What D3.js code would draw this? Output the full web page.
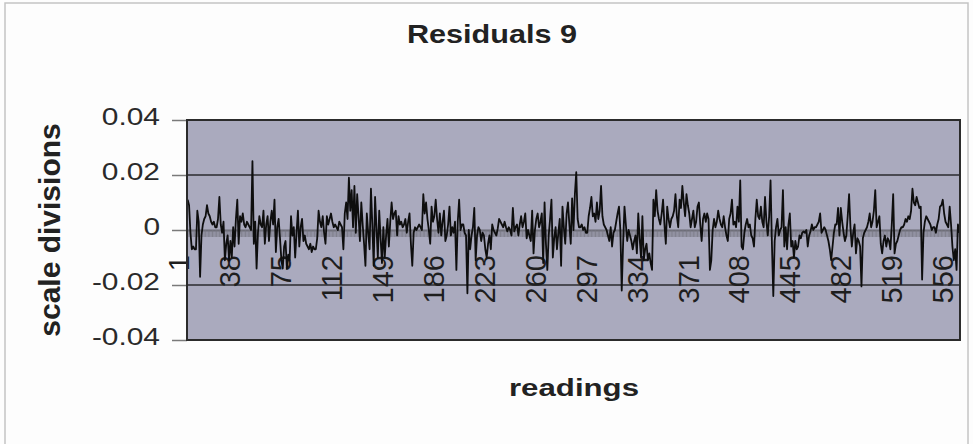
<!DOCTYPE html>
<html>
<head>
<meta charset="utf-8">
<script src="https://cdn.jsdelivr.net/npm/d3@7"></script>
<style>
  html, body { margin: 0; padding: 0; background: #fdfdfd; }
  svg { display: block; }
  text { font-family: "Liberation Sans", Arial, sans-serif; fill: #222; }
</style>
</head>
<body>
<div id="chart"></div>
<script>
const chartTitle = 'Residuals 9';
const xTitle = 'readings';
const yTitle = 'scale divisions';
const yTicks = [-0.04, -0.02, 0, 0.02, 0.04];
const xTickLabels = [1, 38, 75, 112, 149, 186, 223, 260, 297, 334, 371, 408, 445, 482, 519, 556];

// residual per reading (1..561)
const residuals = [
  0.011, 0.009, -0.001, -0.007, -0.006, -0.007, -0.007, 0.007, 0.003, -0.017, -0.002, 0.002, 0.004, 0.005, 0.009, 0.006, 0.005, 0.003, 0.002, 0.003,
  0.001, 0.001, 0.004, 0.012, 0.002, -0.001, 0.003, -0.011, -0.005, -0.002, -0.011, -0.004, -0.010, 0.001, -0.006, 0.004, 0.011, -0.005, 0.005, 0.003,
  0.006, 0.002, 0.001, 0.003, 0.002, 0.001, 0.000, 0.025, -0.005, 0.003, -0.014, -0.001, 0.005, 0.002, 0.001, 0.007, -0.005, 0.002, 0.005, -0.004,
  0.003, 0.007, 0.002, 0.011, -0.008, 0.001, 0.004, -0.003, -0.011, -0.014, -0.006, -0.004, -0.014, -0.009, -0.011, 0.005, -0.002, 0.001, -0.010, -0.001,
  0.007, -0.006, 0.001, 0.004, -0.004, -0.002, -0.005, -0.006, -0.007, -0.005, -0.008, -0.006, -0.007, -0.007, -0.003, 0.007, 0.003, 0.001, 0.005, -0.001,
  -0.005, 0.005, 0.002, 0.004, 0.006, 0.003, 0.001, 0.002, 0.001, 0.000, 0.003, 0.002, 0.001, -0.007, 0.006, 0.010, 0.004, 0.019, 0.007, 0.0145,
  0.001, 0.016, -0.001, 0.013, 0.005, -0.004, 0.010, 0.002, -0.005, -0.013, 0.006, -0.001, -0.007, 0.015, 0.002, -0.013, 0.012, 0.001, -0.010, 0.007,
  -0.003, -0.012, 0.001, -0.010, -0.002, 0.004, -0.006, 0.003, 0.010, 0.004, 0.006, 0.007, -0.002, 0.005, 0.002, 0.003, 0.001, 0.002, 0.004, -0.001,
  0.003, 0.006, -0.005, -0.013, -0.001, 0.001, 0.000, 0.001, 0.002, 0.001, 0.000, 0.013, 0.006, 0.010, 0.004, 0.000, -0.005, 0.0085, 0.003, 0.005,
  0.011, 0.004, -0.001, 0.006, -0.002, 0.003, 0.007, -0.004, -0.002, 0.002, 0.0085, -0.002, 0.001, -0.001, 0.003, -0.0145, 0.003, 0.011, 0.000, 0.002,
  0.002, -0.001, -0.002, -0.023, 0.000, -0.007, -0.002, 0.001, 0.008, -0.011, -0.002, 0.001, 0.000, -0.004, -0.001, -0.002, -0.007, -0.010, -0.005, -0.002,
  -0.007, 0.002, 0.000, -0.001, -0.002, 0.0005, 0.004, 0.003, 0.002, 0.001, 0.003, 0.001, -0.0005, 0.001, 0.000, -0.002, 0.008, -0.0005, 0.001, 0.002,
  -0.002, 0.002, 0.005, 0.001, 0.003, 0.006, -0.003, 0.000, -0.002, -0.004, 0.007, -0.0085, 0.000, 0.004, 0.006, 0.001, 0.003, 0.006, -0.012, 0.010,
  -0.005, -0.0145, -0.002, 0.004, 0.011, -0.010, -0.003, 0.001, -0.007, -0.001, 0.004, -0.013, 0.0085, 0.001, -0.005, 0.006, 0.010, 0.002, -0.005, 0.0115,
  0.000, 0.013, 0.021, 0.004, 0.001, 0.001, 0.002, 0.000, 0.001, -0.001, -0.001, 0.005, 0.008, 0.012, 0.005, 0.006, 0.003, 0.010, 0.004, 0.007,
  0.016, 0.005, 0.002, 0.001, 0.000, -0.002, -0.004, 0.001, -0.006, -0.001, 0.000, 0.003, 0.006, 0.0085, 0.000, -0.022, -0.005, 0.0085, 0.002, -0.004,
  0.000, -0.002, -0.004, -0.007, -0.004, -0.002, -0.0085, 0.006, -0.003, -0.010, 0.005, -0.011, -0.007, -0.005, -0.011, -0.0085, -0.012, -0.0145, 0.011, 0.005,
  0.0145, 0.007, 0.004, 0.002, 0.006, 0.011, 0.002, -0.005, 0.0085, 0.004, 0.001, 0.004, 0.005, 0.007, 0.013, 0.005, 0.001, 0.011, 0.008, 0.016,
  0.010, 0.005, 0.013, 0.009, 0.006, 0.001, 0.004, 0.007, 0.001, 0.003, 0.0085, 0.010, 0.002, -0.004, 0.004, 0.006, 0.003, 0.006, 0.004, -0.0145,
  -0.011, 0.000, 0.004, 0.001, 0.003, 0.007, 0.004, 0.002, 0.001, 0.005, 0.001, -0.002, -0.004, 0.004, 0.006, 0.011, 0.002, 0.003, 0.001, 0.0085,
  0.003, 0.018, -0.006, -0.007, -0.001, 0.002, 0.004, 0.001, 0.002, -0.002, -0.003, -0.006, 0.004, 0.011, 0.005, 0.004, 0.0085, 0.003, 0.001, 0.012,
  0.003, -0.002, 0.005, 0.018, -0.005, -0.024, -0.004, 0.001, 0.004, -0.002, 0.000, 0.001, 0.0145, -0.006, 0.001, -0.007, 0.002, 0.006, -0.006, -0.004,
  -0.010, -0.004, -0.007, -0.006, -0.002, -0.003, -0.001, -0.0005, -0.001, 0.000, -0.006, -0.002, -0.0005, 0.002, 0.000, 0.001, 0.001, 0.002, 0.003, 0.006,
  -0.001, 0.000, 0.001, 0.000, -0.002, -0.004, -0.007, -0.011, -0.006, -0.001, 0.002, 0.002, 0.008, -0.002, 0.008, 0.003, -0.001, -0.004, -0.002, 0.005,
  0.013, 0.001, -0.006, -0.001, 0.002, -0.0085, -0.003, -0.004, -0.006, -0.0205, -0.003, -0.001, 0.000, 0.001, 0.003, 0.006, 0.001, 0.003, 0.007, 0.0145,
  0.001, 0.003, 0.005, -0.005, -0.0085, -0.004, -0.002, -0.006, -0.003, -0.004, -0.007, 0.002, 0.013, -0.0085, -0.005, -0.004, -0.002, 0.000, 0.001, 0.001,
  0.002, 0.004, 0.003, 0.005, 0.004, 0.007, 0.015, 0.010, 0.009, 0.012, 0.010, 0.008, 0.0085, -0.018, -0.001, 0.003, 0.005, 0.004, 0.003, 0.002,
  0.000, 0.001, 0.001, -0.001, 0.002, 0.004, 0.0085, 0.009, 0.011, 0.006, 0.003, 0.002, 0.001, 0.0085, 0.002, -0.006, -0.011, -0.007, -0.0145, 0.002, -0.001
];
const readings = residuals.map((d, i) => i + 1);

const width = 973, height = 444;
const plot = { left: 187, right: 960, top: 120, bottom: 340 };

const svg = d3.select('#chart').append('svg')
  .attr('width', width).attr('height', height);

// chart area frame
svg.append('rect')
  .attr('x', 5).attr('y', 3).attr('width', 963).attr('height', 450)
  .attr('fill', 'none').attr('stroke', '#c4c4c4').attr('stroke-width', 1.5);

const x = d3.scaleBand().domain(readings).range([plot.left, plot.right]);
const cx = d => x(d) + x.bandwidth() / 2;
const y = d3.scaleLinear().domain([-0.04, 0.04]).range([plot.bottom, plot.top]);

// plot area
svg.append('rect')
  .attr('x', plot.left).attr('y', plot.top)
  .attr('width', plot.right - plot.left).attr('height', plot.bottom - plot.top)
  .attr('fill', '#aaaabe');

// gridlines
svg.append('g').selectAll('line')
  .data(yTicks.filter(v => v !== 0 && Math.abs(v) < 0.04))
  .enter().append('line')
  .attr('x1', plot.left).attr('x2', plot.right)
  .attr('y1', d => y(d)).attr('y2', d => y(d))
  .attr('stroke', '#4a4a52').attr('stroke-width', 2);

// y axis
const yAxis = svg.append('g')
  .attr('transform', `translate(${plot.left},0)`)
  .call(d3.axisLeft(y).tickValues(yTicks).tickSize(15).tickSizeOuter(0)
    .tickFormat(d => d === 0 ? '0' : d.toFixed(2)));
yAxis.select('.domain').remove();
yAxis.selectAll('.tick line').attr('stroke', '#7a7a7a').attr('stroke-width', 1.5);
yAxis.selectAll('.tick text')
  .attr('x', null).attr('dy', null)
  .attr('text-anchor', 'end')
  .attr('transform', 'translate(-27,4.5) scale(1.3,1)')
  .style('font-size', '23px').style('fill', '#2a2a2a');

// category axis at zero, one tick per reading
const xAxis = svg.append('g')
  .attr('transform', `translate(0,${y(0)})`)
  .call(d3.axisBottom(x).tickValues(readings).tickSize(7).tickSizeOuter(0).tickFormat(''));
xAxis.select('.domain').attr('stroke', '#6a6a74').attr('stroke-width', 2);
xAxis.selectAll('.tick line').attr('stroke', '#767682').attr('stroke-width', 0.8);

// category labels
svg.append('g').selectAll('text')
  .data(xTickLabels)
  .enter().append('text')
  .attr('transform', d => `translate(${cx(d) + 1},255) rotate(-90)`)
  .attr('text-anchor', 'end')
  .style('font-size', '29px').style('fill', '#1e1e1e')
  .text(d => d);

// residual line
const line = d3.line()
  .x((d, i) => cx(readings[i]))
  .y(d => y(d));
svg.append('path')
  .datum(residuals)
  .attr('d', line)
  .attr('fill', 'none').attr('stroke', '#0e0e0e').attr('stroke-width', 1.8)
  .attr('stroke-linejoin', 'round');

// plot border
svg.append('rect')
  .attr('x', plot.left).attr('y', plot.top)
  .attr('width', plot.right - plot.left).attr('height', plot.bottom - plot.top)
  .attr('fill', 'none').attr('stroke', '#2b2b2b').attr('stroke-width', 2);

// titles
svg.append('text')
  .attr('transform', 'translate(492,43) scale(1.2,1)')
  .attr('text-anchor', 'middle')
  .style('font-size', '25.5px').style('font-weight', 'bold')
  .text(chartTitle);

svg.append('text')
  .attr('transform', 'translate(574,396) scale(1.3,1)')
  .attr('text-anchor', 'middle')
  .style('font-size', '24px').style('font-weight', 'bold')
  .text(xTitle);

svg.append('text')
  .attr('transform', 'translate(60,230) rotate(-90)')
  .attr('text-anchor', 'middle')
  .style('font-size', '30px').style('font-weight', 'bold')
  .text(yTitle);
</script>
</body>
</html>
